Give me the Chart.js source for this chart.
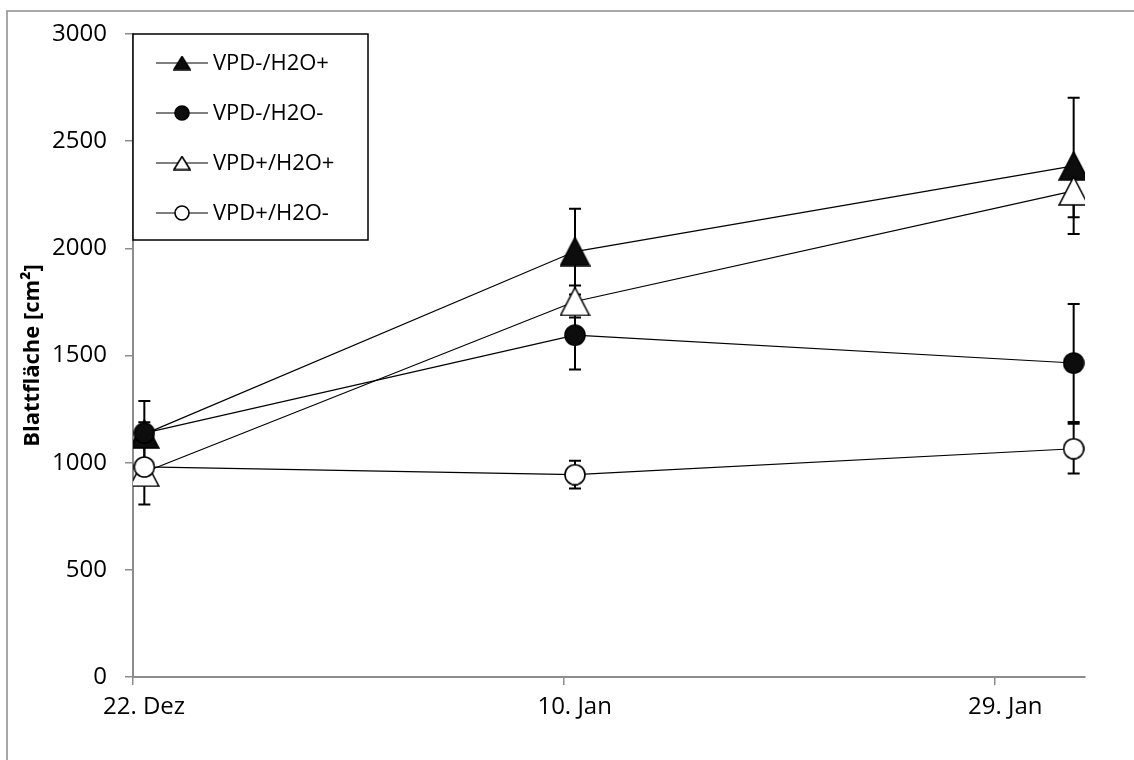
<!DOCTYPE html>
<html>
<head>
<meta charset="utf-8">
<title>Blattfläche</title>
<script src="https://cdn.jsdelivr.net/npm/chart.js@4.4.1/dist/chart.umd.min.js"></script>
<style>
  html, body { margin: 0; padding: 0; background: #fff; }
  canvas { display: block; }
</style>
</head>
<body>
<canvas id="leafChart" width="1134" height="760"></canvas>
<script>
// measurement days, counted from 22. Dez (middle of the day)
let sampleDays = [0.5, 19.5, 41.5];

// date axis ticks
let tickDays = [0, 19, 38];
let tickLabels = ['22. Dez', '10. Jan', '29. Jan'];

// series names
let seriesNames = ['VPD-/H2O+', 'VPD-/H2O-', 'VPD+/H2O+', 'VPD+/H2O-'];

// leaf area means [cm²]
let vpdMinusH2oPlus = [1133, 1985, 2385];
let vpdMinusH2oMinus = [1138, 1595, 1465];
let vpdPlusH2oPlus = [955, 1752, 2268];
let vpdPlusH2oMinus = [980, 944, 1065];

// standard deviations
let errVpdMinusH2oPlus = [155, 200, 318];
let errVpdMinusH2oMinus = [50, 160, 275];
let errVpdPlusH2oPlus = [150, 75, 123];
let errVpdPlusH2oMinus = [30, 65, 116];

let means = [vpdMinusH2oPlus, vpdMinusH2oMinus, vpdPlusH2oPlus, vpdPlusH2oMinus];
let errors = [errVpdMinusH2oPlus, errVpdMinusH2oMinus, errVpdPlusH2oPlus, errVpdPlusH2oMinus];

const FONT = '"Open Sans", Lato, sans-serif';
const AXIS_GREY = '#8c8c8c';

// marker images: filled/open triangle and circle
function makeMarker(shape, filled, w, h) {
    let c = document.createElement('canvas');
    c.width = w;
    c.height = h;
    let g = c.getContext('2d');
    g.lineWidth = 1.6;
    g.strokeStyle = '#000';
    g.fillStyle = filled ? '#0d0d0d' : '#fff';
    g.beginPath();
    if (shape === 'triangle') {
        g.moveTo(w / 2, 1);
        g.lineTo(w - 1, h - 1);
        g.lineTo(1, h - 1);
        g.closePath();
    } else {
        g.arc(w / 2, h / 2, w / 2 - 1, 0, Math.PI * 2);
    }
    g.fill();
    g.stroke();
    return c;
}

let bigMarkers = [
    makeMarker('triangle', true, 31, 30),
    makeMarker('circle', true, 22, 22),
    makeMarker('triangle', false, 31, 30),
    makeMarker('circle', false, 22, 22)
];
let smallMarkers = [
    makeMarker('triangle', true, 18, 15),
    makeMarker('circle', true, 16, 16),
    makeMarker('triangle', false, 18, 15),
    makeMarker('circle', false, 16, 16)
];

// outer frame of the chart area
const framePlugin = {
    id: 'frame',
    beforeDraw(chart) {
        let ctx = chart.ctx;
        ctx.save();
        ctx.fillStyle = '#fff';
        ctx.fillRect(0, 0, chart.width, chart.height);
        ctx.strokeStyle = AXIS_GREY;
        ctx.lineWidth = 1.5;
        ctx.strokeRect(7, 11, chart.width + 10, chart.height + 10);
        ctx.restore();
    }
};

// vertical error bars, drawn under the markers
const errorBarPlugin = {
    id: 'errorBars',
    beforeDatasetsDraw(chart) {
        let ctx = chart.ctx;
        let xs = chart.scales.x, ys = chart.scales.y;
        ctx.save();
        ctx.strokeStyle = '#000';
        ctx.lineWidth = 2;
        errors.forEach((errs, s) => {
            errs.forEach((e, i) => {
                let x = xs.getPixelForValue(sampleDays[i]);
                let yTop = ys.getPixelForValue(means[s][i] + e);
                let yBot = ys.getPixelForValue(means[s][i] - e);
                ctx.beginPath();
                ctx.moveTo(x, yTop);
                ctx.lineTo(x, yBot);
                ctx.moveTo(x - 6, yTop);
                ctx.lineTo(x + 6, yTop);
                ctx.moveTo(x - 6, yBot);
                ctx.lineTo(x + 6, yBot);
                ctx.stroke();
            });
        });
        ctx.restore();
    }
};

// boxed legend in the top left corner of the plot
const boxLegendPlugin = {
    id: 'boxLegend',
    afterDatasetsDraw(chart) {
        let ctx = chart.ctx;
        let area = chart.chartArea;
        let left = area.left, top = area.top;
        let w = 235, h = 206;
        ctx.save();
        ctx.fillStyle = '#fff';
        ctx.fillRect(left, top, w, h);
        ctx.strokeStyle = '#000';
        ctx.lineWidth = 1.5;
        ctx.strokeRect(left, top, w, h);
        ctx.font = '22px ' + FONT;
        ctx.textBaseline = 'middle';
        ctx.fillStyle = '#000';
        chart.data.datasets.forEach((ds, i) => {
            let y = top + 29 + i * 50;
            ctx.lineWidth = 1.2;
            ctx.beginPath();
            ctx.moveTo(left + 23, y);
            ctx.lineTo(left + 75, y);
            ctx.stroke();
            let m = smallMarkers[i];
            ctx.drawImage(m, left + 49 - m.width / 2, y - m.height / 2);
            ctx.fillText(ds.label, left + 80, y + 1);
        });
        ctx.restore();
    }
};

let datasets = seriesNames.map((name, s) => ({
    label: name,
    data: sampleDays.map((d, i) => ({x: d, y: means[s][i]})),
    borderColor: '#000',
    borderWidth: 1.2,
    pointStyle: bigMarkers[s],
    pointRadius: 11,
    pointHoverRadius: 11,
    order: seriesNames.length - 1 - s,
    tension: 0
}));

let ctx = document.getElementById('leafChart');

let leafChart = new Chart(ctx, {
    type: 'line',
    data: {datasets: datasets},
    options: {
        responsive: false,
        animation: false,
        events: [],
        layout: {autoPadding: false, padding: {left: 0, top: 34, right: 49, bottom: 0}},
        plugins: {
            legend: {display: false},
            tooltip: {enabled: false}
        },
        scales: {
            x: {
                type: 'linear',
                min: 0,
                max: 42,
                afterBuildTicks: (scale) => {
                    scale.ticks = tickDays.map(v => ({value: v}));
                },
                afterFit: (scale) => { scale.height = 83; },
                ticks: {
                    callback: (v, i) => tickLabels[i],
                    color: '#000',
                    font: {family: FONT, size: 24},
                    padding: 8,
                    labelOffset: 11,
                    maxRotation: 0,
                    autoSkip: false
                },
                grid: {drawOnChartArea: false, drawTicks: true, tickLength: 8, color: AXIS_GREY, lineWidth: 1.5},
                border: {color: AXIS_GREY, width: 2}
            },
            y: {
                min: 0,
                max: 3000,
                afterFit: (scale) => { scale.width = 133; },
                ticks: {
                    stepSize: 500,
                    callback: (v) => String(v),
                    color: '#000',
                    font: {family: FONT, size: 24},
                    padding: 18
                },
                grid: {drawOnChartArea: false, drawTicks: true, tickLength: 8, color: AXIS_GREY, lineWidth: 1.5},
                border: {color: AXIS_GREY, width: 2},
                title: {
                    display: true,
                    text: 'Blattfläche [cm²]',
                    color: '#000',
                    font: {family: FONT, size: 22, weight: 'bold'},
                    padding: {top: 20, bottom: 0}
                }
            }
        }
    },
    plugins: [framePlugin, errorBarPlugin, boxLegendPlugin]
});
</script>
</body>
</html>
